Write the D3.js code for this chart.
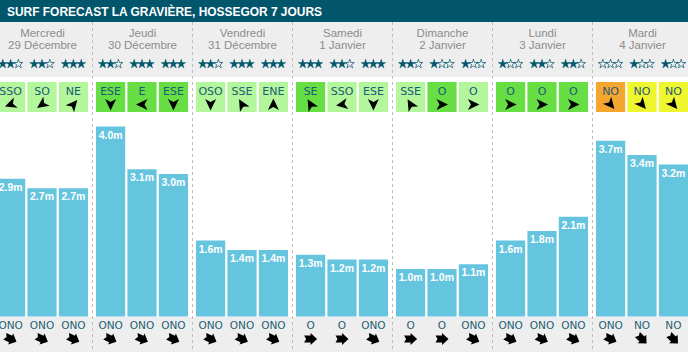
<!DOCTYPE html>
<html>
<head>
<meta charset="utf-8">
<script src="https://cdn.jsdelivr.net/npm/d3@7"></script>
<style>
  body { margin: 0; background: #fff; }
  svg { display: block; }
</style>
</head>
<body>
<script>
var W = 688, H = 352;

// jours et dates
var days = ["Mercredi", "Jeudi", "Vendredi", "Samedi", "Dimanche", "Lundi", "Mardi"];
var dates = ["29 Décembre", "30 Décembre", "31 Décembre", "1 Janvier", "2 Janvier", "3 Janvier", "4 Janvier"];

// 3 créneaux par jour
var ratings = [2, 2, 3, 2, 3, 3, 2, 3, 3, 3, 2, 3, 2, 1, 1, 1, 2, 2, 0, 1, 1];
var swellHeight = [2.9, 2.7, 2.7, 4.0, 3.1, 3.0, 1.6, 1.4, 1.4, 1.3, 1.2, 1.2, 1.0, 1.0, 1.1, 1.6, 1.8, 2.1, 3.7, 3.4, 3.2];
var windDir = ["SSO", "SO", "NE", "ESE", "E", "ESE", "OSO", "SSE", "ENE", "SE", "SSO", "ESE", "SSE", "O", "O", "O", "O", "O", "NO", "NO", "NO"];
var windArrow = [250, 235, 40, 180, 270, 180, 180, 330, 0, 330, 260, 180, 330, 90, 90, 90, 90, 90, 140, 140, 140];
var windForce = [1, 1, 1, 2, 2, 2, 1, 1, 1, 2, 1, 1, 1, 2, 1, 2, 2, 2, 4, 3, 3];
var swellDir = ["ONO", "ONO", "ONO", "ONO", "ONO", "ONO", "ONO", "ONO", "ONO", "O", "O", "ONO", "O", "O", "ONO", "ONO", "ONO", "ONO", "ONO", "NO", "NO"];
var swellArrow = [115, 115, 115, 115, 115, 115, 115, 115, 115, 90, 90, 115, 90, 90, 115, 115, 115, 115, 115, 135, 135];

var slots = swellHeight.map(function(h, i) {
  return {i: i, day: days[Math.floor(i / 3)], k: i % 3, h: h,
          stars: ratings[i], wind: windDir[i], windA: windArrow[i], force: windForce[i],
          swell: swellDir[i], swellA: swellArrow[i]};
});

var svg = d3.select("body").append("svg")
  .attr("width", W)
  .attr("height", H);

var xDay = d3.scaleBand().domain(days).range([-7.5, 692.5]);
var xSlot = d3.scaleBand().domain([0, 1, 2]).range([3.5, 95.5]).paddingInner(0.07);
var y = d3.scaleLinear().domain([0, 4]).range([316.5, 126.5]);
var windColor = d3.scaleOrdinal().domain([1, 2, 3, 4])
  .range(["#b3f69b", "#66de44", "#eef630", "#f5a62e"]);

function sx(d) { return xDay(d.day) + xSlot(d.k); }
function cx(d) { return sx(d) + xSlot.bandwidth() / 2; }

// fonds
svg.append("rect").attr("width", W).attr("height", H).attr("fill", "#fff");
svg.append("rect").attr("y", 22).attr("width", W).attr("height", 55).attr("fill", "#eeeeee");
svg.append("rect").attr("y", 317).attr("width", W).attr("height", H - 317).attr("fill", "#eeeeee");
svg.append("rect").attr("width", W).attr("height", 22).attr("fill", "#02566b");

svg.append("text")
  .attr("x", 7).attr("y", 16)
  .attr("font-family", "Liberation Sans, Arial, sans-serif")
  .attr("font-weight", "bold")
  .attr("font-size", "12.5px")
  .attr("textLength", 315)
  .attr("lengthAdjust", "spacingAndGlyphs")
  .attr("fill", "#fff")
  .text("SURF FORECAST LA GRAVIÈRE, HOSSEGOR 7 JOURS");

// séparateurs jours
svg.selectAll("line.sep")
  .data(days.slice(1))
  .enter()
  .append("line")
  .attr("x1", function(d) { return xDay(d); })
  .attr("x2", function(d) { return xDay(d); })
  .attr("y1", 22).attr("y2", H)
  .attr("stroke", "#bdbdbd")
  .attr("stroke-dasharray", "3,3");

// en-têtes jours
var head = svg.selectAll("g.day")
  .data(days)
  .enter()
  .append("g")
  .attr("transform", function(d) { return "translate(" + (xDay(d) + 50) + ",0)"; });

head.append("text")
  .attr("y", 37)
  .attr("text-anchor", "middle")
  .attr("font-family", "Liberation Sans, Arial, sans-serif")
  .attr("font-size", "11.5px")
  .attr("fill", "#8c8c8c")
  .text(function(d) { return d; });

head.append("text")
  .attr("y", 48.5)
  .attr("text-anchor", "middle")
  .attr("font-family", "Liberation Sans, Arial, sans-serif")
  .attr("font-size", "11.5px")
  .attr("fill", "#8c8c8c")
  .text(function(d, i) { return dates[i]; });

// étoiles
var starPath = d3.symbol().type(d3.symbolStar).size(26)();
var starData = [];
slots.forEach(function(s) {
  for (var j = 0; j < 3; j++) starData.push({x: cx(s) + (j - 1) * 7.8, full: j < s.stars});
});
svg.selectAll("path.star")
  .data(starData)
  .enter()
  .append("path")
  .attr("d", starPath)
  .attr("transform", function(d) { return "translate(" + d.x + ",64)"; })
  .attr("fill", function(d) { return d.full ? "#02566b" : "none"; })
  .attr("stroke", "#02566b")
  .attr("stroke-width", function(d) { return d.full ? 0.4 : 0.7; });

// vent
svg.selectAll("rect.wind")
  .data(slots)
  .enter()
  .append("rect")
  .attr("x", sx)
  .attr("y", 82)
  .attr("width", xSlot.bandwidth())
  .attr("height", 30)
  .attr("fill", function(d) { return windColor(d.force); });

svg.selectAll("text.wind")
  .data(slots)
  .enter()
  .append("text")
  .attr("x", cx)
  .attr("y", 94.5)
  .attr("text-anchor", "middle")
  .attr("font-family", "DejaVu Sans, sans-serif")
  .attr("font-size", "11px")
  .attr("fill", "#1e5a78")
  .text(function(d) { return d.wind; });

svg.selectAll("path.wind")
  .data(slots)
  .enter()
  .append("path")
  .attr("d", "M0,-6L5.5,5.5L0,2.5L-5.5,5.5Z")
  .attr("transform", function(d) { return "translate(" + cx(d) + ",104.5) rotate(" + d.windA + ")"; })
  .attr("fill", "#000");

// houle
svg.selectAll("rect.bar")
  .data(slots)
  .enter()
  .append("rect")
  .attr("x", sx)
  .attr("y", function(d) { return y(d.h); })
  .attr("width", xSlot.bandwidth())
  .attr("height", function(d) { return y(0) - y(d.h); })
  .attr("fill", "#65c4de");

svg.selectAll("text.bar")
  .data(slots)
  .enter()
  .append("text")
  .attr("x", cx)
  .attr("y", function(d) { return y(d.h) + 12; })
  .attr("text-anchor", "middle")
  .attr("font-family", "Liberation Sans, Arial, sans-serif")
  .attr("font-weight", "bold")
  .attr("font-size", "10.5px")
  .attr("fill", "#fff")
  .text(function(d) { return d3.format(".1f")(d.h) + "m"; });

svg.selectAll("text.swell")
  .data(slots)
  .enter()
  .append("text")
  .attr("x", cx)
  .attr("y", 329)
  .attr("text-anchor", "middle")
  .attr("font-family", "DejaVu Sans, sans-serif")
  .attr("font-size", "10.5px")
  .attr("fill", "#1e6075")
  .text(function(d) { return d.swell; });

svg.selectAll("path.swell")
  .data(slots)
  .enter()
  .append("path")
  .attr("d", "M-6.5,-3.5L0,-3.5L0,-6L6.5,0L0,6L0,3.5L-6.5,3.5L-4.5,0Z")
  .attr("transform", function(d) { return "translate(" + cx(d) + ",339) rotate(" + (d.swellA - 90) + ")"; })
  .attr("fill", "#000");
</script>
</body>
</html>
